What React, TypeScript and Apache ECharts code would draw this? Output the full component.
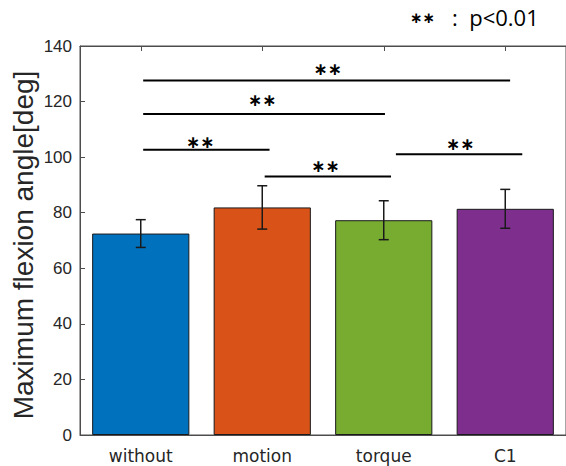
import React, { useEffect, useRef } from "react";
import * as echarts from "echarts";

const categories = ["without", "motion", "torque", "C1"];
const means = [72.5, 81.9, 77.3, 81.4];
const sds = [5.0, 7.8, 7.0, 7.0];
const barColors = ["#0072BD", "#D95319", "#77AC30", "#7E2F8E"];
const yTicks = { min: 0, max: 140, interval: 20 };
const yTitle = "Maximum flexion angle[deg]";

// significance brackets: [xStart, xEnd, lineY, starX, starY] in category-index units
const sigStart = [0.02, 0.02, 0.02, 1.02, 2.1];
const sigEnd = [3.04, 2.01, 1.06, 2.06, 3.14];
const sigLineY = [127.6, 115.5, 102.7, 93.0, 101.0];
const sigStarX = [1.54, 1.0, 0.49, 1.52, 2.63];
const sigStarY = [131.6, 120.4, 105.3, 96.9, 104.6];
const sigText = "∗∗";

const axisColor = "#4d4d4d";
const textColor = "#262626";

export default function App() {
  const ref = useRef<HTMLDivElement>(null);
  useEffect(() => {
    const chart = echarts.init(ref.current!, null, { renderer: "svg" });
    const errData = means.map((m, i) => [i, m - sds[i], m + sds[i]]);
    const sigData = sigStart.map((s, i) => [s, sigEnd[i], sigLineY[i], sigStarX[i], sigStarY[i]]);
    chart.setOption({
      animation: false,
      backgroundColor: "#ffffff",
      grid: { left: 80, top: 46, right: -5, bottom: 31, show: true, borderColor: axisColor, borderWidth: 1, backgroundColor: "transparent" },
      graphic: [
        { type: "text", left: 410, top: 10, style: { text: sigText, font: "bold 15px 'DejaVu Sans'", fill: "#000" } },
        { type: "text", left: 452, top: 6, style: { text: ":  p<0.01", font: "22px 'Open Sans'", fill: "#000" } },
        {
          type: "text",
          x: 23,
          y: 245,
          rotation: Math.PI / 2,
          style: { text: yTitle, font: "28px 'Liberation Sans'", fill: textColor, align: "center", verticalAlign: "middle" },
        },
      ],
      xAxis: [
        {
          type: "category",
          data: categories,
          position: "bottom",
          axisLine: { show: true, onZero: false, lineStyle: { color: axisColor } },
          axisTick: { show: true, inside: true, alignWithLabel: true, length: 5, lineStyle: { color: axisColor } },
          axisLabel: { color: textColor, fontSize: 17, fontFamily: "DejaVu Sans", margin: 12 },
        },
        {
          type: "category",
          data: categories,
          position: "top",
          axisLine: { show: true, onZero: false, lineStyle: { color: axisColor } },
          axisTick: { show: true, inside: true, alignWithLabel: true, length: 5, lineStyle: { color: axisColor } },
          axisLabel: { show: false },
        },
        { type: "value", min: -0.5, max: 3.5, show: false },
      ],
      yAxis: {
        type: "value",
        min: yTicks.min,
        max: yTicks.max,
        interval: yTicks.interval,
        axisLine: { show: true, onZero: false, lineStyle: { color: axisColor } },
        axisTick: { show: true, inside: true, length: 5, lineStyle: { color: axisColor } },
        axisLabel: { color: textColor, fontSize: 17, fontFamily: "Liberation Sans", margin: 8 },
        splitLine: { show: false },
      },
      series: [
        {
          type: "bar",
          xAxisIndex: 0,
          barWidth: "80%",
          data: means.map((v, i) => ({ value: v, itemStyle: { color: barColors[i] } })),
          itemStyle: { borderColor: "#1a1a1a", borderWidth: 1 },
        },
        {
          type: "custom",
          xAxisIndex: 0,
          data: errData,
          encode: { x: 0, y: [1, 2] },
          z: 5,
          renderItem: (params: any, api: any) => {
            const x = api.value(0);
            const lo = api.coord([x, api.value(1)]);
            const hi = api.coord([x, api.value(2)]);
            const w = 5;
            const style = { stroke: "#1a1a1a", lineWidth: 1.5 };
            return {
              type: "group",
              children: [
                { type: "line", shape: { x1: lo[0], y1: lo[1], x2: hi[0], y2: hi[1] }, style },
                { type: "line", shape: { x1: lo[0] - w, y1: lo[1], x2: lo[0] + w, y2: lo[1] }, style },
                { type: "line", shape: { x1: hi[0] - w, y1: hi[1], x2: hi[0] + w, y2: hi[1] }, style },
              ],
            };
          },
        },
        {
          type: "custom",
          xAxisIndex: 2,
          data: sigData,
          encode: { x: [0, 1, 3], y: [2, 4] },
          z: 6,
          renderItem: (params: any, api: any) => {
            const a = api.coord([api.value(0), api.value(2)]);
            const b = api.coord([api.value(1), api.value(2)]);
            const s = api.coord([api.value(3), api.value(4)]);
            return {
              type: "group",
              children: [
                { type: "line", shape: { x1: a[0], y1: a[1], x2: b[0], y2: b[1] }, style: { stroke: "#000", lineWidth: 2 } },
                {
                  type: "text",
                  x: s[0],
                  y: s[1],
                  style: { text: sigText, font: "bold 17px 'DejaVu Sans'", fill: "#000", align: "center", verticalAlign: "middle" },
                },
              ],
            };
          },
        },
      ],
    });
    return () => chart.dispose();
  }, []);
  return <div ref={ref} style={{ position: "fixed", left: 0, top: 0, width: 566, height: 466 }} />;
}
